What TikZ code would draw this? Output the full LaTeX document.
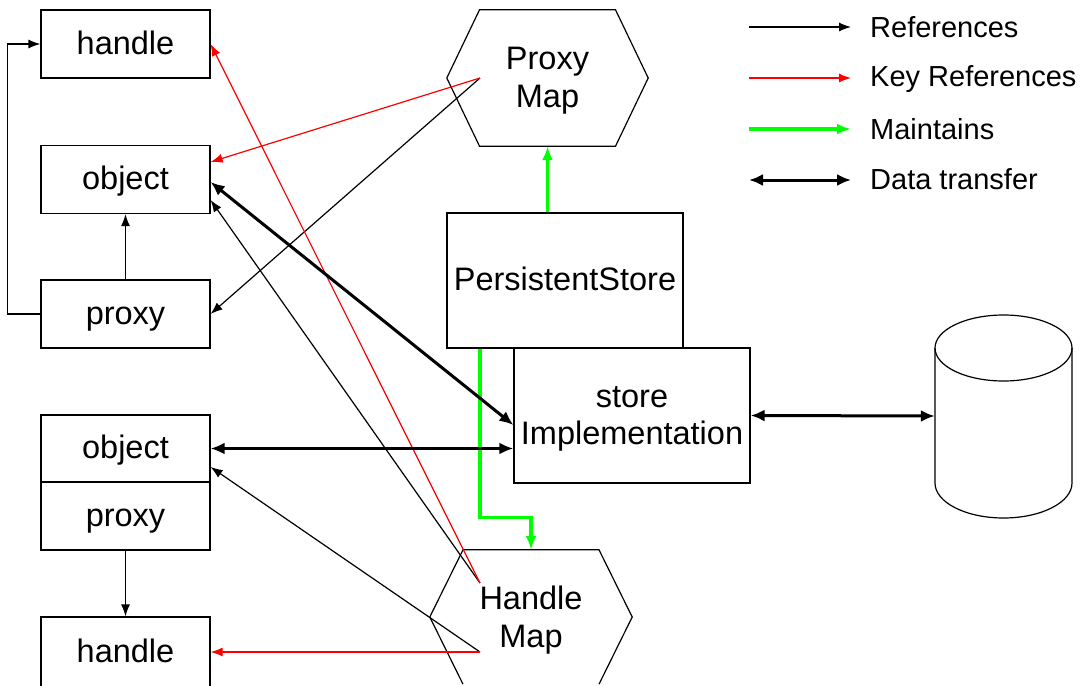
\documentclass[tikz,border=0pt]{standalone}
\usepackage{fontspec}
\setmainfont{Liberation Sans}
\usetikzlibrary{arrows.meta}

\tikzset{
	box/.style = {draw, line width = 1.2pt, minimum width = 169pt, minimum height = 68pt,
		inner sep = 0pt, text height = 20.5pt, text depth = 0pt, font = \fontsize{32.5}{37}\selectfont},
	bigbox/.style = {draw, line width = 1.2pt, minimum width = 236pt, minimum height = 135pt,
		inner sep = 0pt, align = center, font = \fontsize{32.5}{37}\selectfont},
	mapnode/.style = {minimum width = 201pt, minimum height = 136pt, inner sep = 0pt,
		align = center, font = \fontsize{32.5}{38}\selectfont},
	refline/.style = {->, line width = 1.2pt},
	keyline/.style = {->, red, line width = 1.2pt},
	maintline/.style = {-{Latex[length = 14pt, width = 11pt]}, green, line width = 3.5pt},
	dataline/.style = {{Latex[length = 14pt, width = 12pt]}-{Latex[length = 14pt, width = 12pt]}, line width = 3pt},
	legend/.style = {anchor = base west, inner sep = 0pt, font = \fontsize{29}{34}\selectfont}
}

\begin{document}
\begin{tikzpicture}[x = 1pt, y = -1pt, > = {Latex[length = 12pt, width = 9pt]}]

	\useasboundingbox (0, 0) rectangle (1081, 685);

	% Client side

	\node [box] (handleA) at (125.5, 44) {handle};
	\node [box] (objectA) at (125.5, 179.5) {object};
	\node [box] (proxyA) at (125.5, 314) {proxy};

	\node [box, minimum height = 67pt] (objectB) at (125.5, 448.5) {object};
	\node [box] (proxyB) at (125.5, 516) {proxy};
	\node [box, minimum height = 70pt] (handleB) at (125.5, 652) {handle};

	% Store

	\node [bigbox, text height = 20pt, text depth = 0pt] (pstore) at (565, 280.5) {PersistentStore};
	\node [bigbox, text depth = 1pt] (storeimpl) at (632, 415.5) {store\\Implementation};

	% Maps

	\node [mapnode, text depth = 1.5pt] (pmap) at (547.5, 78) {Proxy\\Map};
	\draw [line width = 1.2pt] ([xshift = -68pt]pmap.north) -- ([xshift = 68pt]pmap.north) -- (pmap.east)
		-- ([xshift = 68pt]pmap.south) -- ([xshift = -68pt]pmap.south) -- (pmap.west) -- cycle;

	\node [mapnode, minimum width = 202pt, minimum height = 134pt, text depth = 1pt] (hmap) at (531, 617) {Handle\\Map};
	\draw [line width = 1.2pt] ([xshift = -68pt]hmap.south) -- (hmap.west) -- ([xshift = -68pt]hmap.north)
		-- ([xshift = 68pt]hmap.north) -- (hmap.east) -- ([xshift = 68pt]hmap.south);

	\coordinate (pmtail) at (480, 78);
	\coordinate (hmtailA) at (480, 583);
	\coordinate (hmtailB) at (480, 652);

	% Disk

	\node [minimum width = 137pt, minimum height = 205pt, inner sep = 0pt] (disk) at (1003.5, 416) {};
	\draw [line width = 1.2pt] (1003.5, 348) ellipse [x radius = 68.5pt, y radius = 33pt];
	\draw [line width = 1.2pt] (935, 348) -- (935, 483)
		arc [start angle = 180, end angle = 360, x radius = 68.5pt, y radius = 35pt] -- (1072, 348);

	% References

	\draw [refline] (proxyA.west) -- ++(-33, 0) |- (handleA.west);
	\draw [refline] (proxyA.north) -- (objectA.south);
	\draw [refline] (pmtail) -- (proxyA.east);
	\draw [refline] (hmtailA) -- ([yshift = -20.5pt]objectA.east);
	\draw [refline] (hmtailB) -- ([yshift = -18.5pt]objectB.east);
	\draw [refline] (proxyB.south) -- (handleB.north);

	% Key references

	\draw [keyline] (pmtail) -- ([yshift = 17.5pt]objectA.east);
	\draw [keyline] (hmtailA) -- (handleA.east);
	\draw [keyline] (hmtailB) -- (handleB.east);

	% Maintains

	\draw [maintline] (pmap.south |- pstore.north) -- (pmap.south);
	\draw [maintline] ([xshift = -85pt]pstore.south) -- ++(0, 169) -| (hmap.north);

	% Data transfer

	\draw [dataline] ([yshift = -2.5pt]objectA.east) -- ([yshift = -9.5pt]storeimpl.west);
	\draw [dataline] (objectB.east) -- (objectB.east -| storeimpl.west);
	\draw [dataline] (storeimpl.east) -- (disk.west);

	% Legend

	\coordinate (lgrefA) at (749, 27);
	\coordinate (lgrefB) at (851, 27);
	\coordinate (lgkeyA) at (749, 78);
	\coordinate (lgkeyB) at (851, 78);
	\coordinate (lgmaintA) at (749, 129);
	\coordinate (lgmaintB) at (851, 129);
	\coordinate (lgdataA) at (749, 180);
	\coordinate (lgdataB) at (851, 180);

	\draw [refline] (lgrefA) -- (lgrefB);
	\draw [keyline] (lgkeyA) -- (lgkeyB);
	\draw [maintline] (lgmaintA) -- (lgmaintB);
	\draw [dataline] (lgdataA) -- (lgdataB);

	\node [legend] (lgref) at (870, 37.5) {References};
	\node [legend] (lgkey) at (870, 86.5) {Key References};
	\node [legend] (lgmaint) at (870, 139.5) {Maintains};
	\node [legend] (lgdata) at (870, 189.5) {Data transfer};

\end{tikzpicture}
\end{document}
